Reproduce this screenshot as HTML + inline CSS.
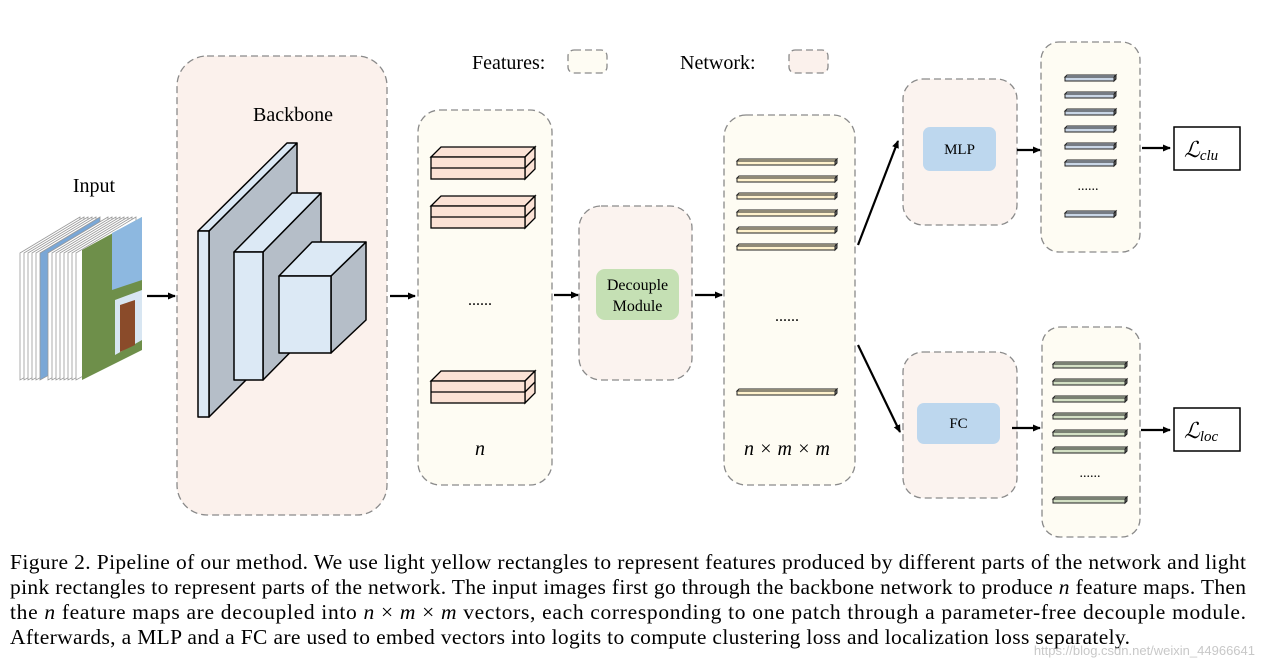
<!DOCTYPE html>
<html><head><meta charset="utf-8"><style>html,body{margin:0;padding:0;background:#fff}svg{display:block}</style></head><body>
<svg width="1261" height="669" viewBox="0 0 1261 669" xmlns="http://www.w3.org/2000/svg" font-family="Liberation Serif, serif">
<defs>
<marker id="ah" markerWidth="8" markerHeight="8" refX="7" refY="4" orient="auto" markerUnits="userSpaceOnUse"><path d="M0,0.5 L8,4 L0,7.5 z" fill="#000"/></marker>
</defs>
<g stroke="#8a8a8a" stroke-width="1.3" stroke-dasharray="7,4">
<rect x="177" y="56" width="210" height="459" rx="30" fill="#fbf1ec"/>
<rect x="418" y="110" width="134" height="375" rx="22" fill="#fefcf3"/>
<rect x="579" y="206" width="113" height="174" rx="22" fill="#fbf3ef"/>
<rect x="724" y="115" width="131" height="370" rx="22" fill="#fefcf3"/>
<rect x="903" y="79" width="114" height="146" rx="20" fill="#fbf3ef"/>
<rect x="1041" y="42" width="99" height="210" rx="18" fill="#fefcf3"/>
<rect x="903" y="352" width="114" height="146" rx="20" fill="#fbf3ef"/>
<rect x="1042" y="327" width="98" height="210" rx="18" fill="#fefcf3"/>
<rect x="568" y="50" width="39" height="23" rx="6" fill="#fefcf3"/>
<rect x="789" y="50" width="39" height="23" rx="6" fill="#fbf1ec"/>
</g>
<g font-size="20" fill="#000">
<text x="472" y="69">Features:</text>
<text x="680" y="69">Network:</text>
<text x="94" y="192" text-anchor="middle">Input</text>
<text x="293" y="121" text-anchor="middle">Backbone</text>
<text x="480" y="455" font-style="italic" text-anchor="middle">n</text>
<text x="787" y="455" font-style="italic" text-anchor="middle">n × m × m</text>
<text x="480" y="305" text-anchor="middle" font-size="16">......</text>
<text x="787" y="321" text-anchor="middle" font-size="16">......</text>
<text x="1088" y="190" text-anchor="middle" font-size="14">......</text>
<text x="1090" y="477" text-anchor="middle" font-size="14">......</text>
</g>
<g stroke="#9a9a9a" stroke-width="0.8" fill="#fff">
<path d="M20,253 L80,217 L80,347 L20,380 z"/><path d="M24,253 L84,217 L84,347 L24,380 z"/>
<path d="M28,253 L88,217 L88,347 L28,380 z"/><path d="M32,253 L92,217 L92,347 L32,380 z"/>
<path d="M36,253 L96,217 L96,347 L36,380 z"/>
<path d="M40,253 L100,217 L100,347 L40,380 z" fill="#7aa7d6"/>
<path d="M48,253 L108,217 L108,347 L48,380 z"/><path d="M52,253 L112,217 L112,347 L52,380 z"/>
<path d="M56,253 L116,217 L116,347 L56,380 z"/><path d="M60,253 L120,217 L120,347 L60,380 z"/>
<path d="M64,253 L124,217 L124,347 L64,380 z"/><path d="M68,253 L128,217 L128,347 L68,380 z"/>
<path d="M72,253 L132,217 L132,347 L72,380 z"/><path d="M76,253 L136,217 L136,347 L76,380 z"/>
</g>
<path d="M82,250 L142,217 L142,350 L82,380 z" fill="#6e8f4a"/>
<path d="M112,233 L142,217 L142,280 L112,290 z" fill="#8db8e0"/>
<path d="M115,300 L142,290 L142,340 L115,355 z" fill="#d8e6f2"/>
<path d="M120,305 L135,300 L135,345 L120,352 z" fill="#8a4b2a"/>
<g stroke="#000" stroke-width="1.5" stroke-linejoin="round">
<path d="M209,231 L297,143 L297,329 L209,417 z" fill="#b5bec8"/>
<path d="M198,231 L287,143 L297,143 L209,231 z" fill="#dce9f5"/>
<rect x="198" y="231" width="11" height="186" fill="#dce9f5"/>
<path d="M263,252 L321,193 L321,321 L263,380 z" fill="#b5bec8"/>
<path d="M234,252 L292,193 L321,193 L263,252 z" fill="#dce9f5"/>
<rect x="234" y="252" width="29" height="128" fill="#dce9f5"/>
<path d="M331,276 L366,242 L366,320 L331,353 z" fill="#b5bec8"/>
<path d="M279,276 L312,242 L366,242 L331,276 z" fill="#dce9f5"/>
<rect x="279" y="276" width="52" height="77" fill="#dce9f5"/>
</g>
<g stroke="#000" stroke-width="1.3" fill="#fbe2d5">
<g id="fb"><path d="M431,157 L441,147 L535,147 L525,157 z"/><path d="M525,157 L535,147 L535,169 L525,179 z"/><rect x="431" y="157" width="94" height="22"/><line x1="431" y1="168" x2="525" y2="168"/><line x1="525" y1="168" x2="535" y2="158"/></g>
<use href="#fb" y="49"/><use href="#fb" y="224"/>
</g>
<g stroke="#222" stroke-width="1" fill="#fff2cc">
<g id="vb"><path d="M737,161 L739,159 L837,159 L835,161 z"/><rect x="737" y="161" width="98" height="4"/><path d="M835,161 L837,159 L837,163 L835,165 z" fill="#777"/></g>
<use href="#vb" y="17"/><use href="#vb" y="34"/><use href="#vb" y="51"/><use href="#vb" y="68"/><use href="#vb" y="85"/><use href="#vb" y="230"/>
</g>
<g stroke="#222" stroke-width="1" fill="#c9d6e6">
<g id="bb"><path d="M1065,77 L1067,75 L1116,75 L1114,77 z"/><rect x="1065" y="77" width="49" height="4"/><path d="M1114,77 L1116,75 L1116,79 L1114,81 z" fill="#666"/></g>
<use href="#bb" y="17"/><use href="#bb" y="34"/><use href="#bb" y="51"/><use href="#bb" y="68"/><use href="#bb" y="85"/><use href="#bb" y="136"/>
</g>
<g stroke="#222" stroke-width="1" fill="#d3e0c4">
<g id="gb"><path d="M1053,364 L1055,362 L1127,362 L1125,364 z"/><rect x="1053" y="364" width="72" height="4"/><path d="M1125,364 L1127,362 L1127,366 L1125,368 z" fill="#666"/></g>
<use href="#gb" y="17"/><use href="#gb" y="34"/><use href="#gb" y="51"/><use href="#gb" y="68"/><use href="#gb" y="85"/><use href="#gb" y="135"/>
</g>
<rect x="596" y="269" width="83" height="51" rx="9" fill="#c5e0b4"/>
<text x="637.5" y="290" font-size="16" text-anchor="middle">Decouple</text>
<text x="637.5" y="311" font-size="16" text-anchor="middle">Module</text>
<rect x="923" y="127" width="73" height="44" rx="7" fill="#bdd7ee"/>
<text x="959.5" y="154" font-size="15" text-anchor="middle">MLP</text>
<rect x="917" y="403" width="83" height="41" rx="7" fill="#bdd7ee"/>
<text x="958.5" y="428" font-size="15" text-anchor="middle">FC</text>
<rect x="1174" y="127" width="66" height="43" fill="#fff" stroke="#000" stroke-width="1.5"/>
<text x="1184" y="157" font-size="22" font-style="italic">ℒ<tspan font-size="15" dy="3">clu</tspan></text>
<rect x="1174" y="408" width="66" height="43" fill="#fff" stroke="#000" stroke-width="1.5"/>
<text x="1184" y="438" font-size="22" font-style="italic">ℒ<tspan font-size="15" dy="3">loc</tspan></text>
<g stroke="#000" stroke-width="2.2" marker-end="url(#ah)">
<line x1="147" y1="296" x2="175" y2="296"/>
<line x1="390" y1="296" x2="415" y2="296"/>
<line x1="554" y1="295" x2="578" y2="295"/>
<line x1="695" y1="295" x2="722" y2="295"/>
<line x1="858" y1="245" x2="898" y2="141"/>
<line x1="858" y1="345" x2="900" y2="432"/>
<line x1="1017" y1="150" x2="1040" y2="150"/>
<line x1="1012" y1="428" x2="1040" y2="428"/>
<line x1="1142" y1="148" x2="1170" y2="148"/>
<line x1="1141" y1="430" x2="1170" y2="430"/>
</g>
<g font-size="21.5" fill="#000">
<text x="10" y="569" textLength="1236" lengthAdjust="spacing">Figure 2. Pipeline of our method. We use light yellow rectangles to represent features produced by different parts of the network and light</text>
<text x="10" y="594" textLength="1236" lengthAdjust="spacing">pink rectangles to represent parts of the network. The input images first go through the backbone network to produce <tspan font-style="italic">n</tspan> feature maps. Then</text>
<text x="10" y="619" textLength="1236" lengthAdjust="spacing">the <tspan font-style="italic">n</tspan> feature maps are decoupled into <tspan font-style="italic">n</tspan> × <tspan font-style="italic">m</tspan> × <tspan font-style="italic">m</tspan> vectors, each corresponding to one patch through a parameter-free decouple module.</text>
<text x="10" y="644" textLength="1120" lengthAdjust="spacing">Afterwards, a MLP and a FC are used to embed vectors into logits to compute clustering loss and localization loss separately.</text>
</g>
<text x="1255" y="655" font-size="13" fill="#c8c8c8" text-anchor="end" font-family="Liberation Sans, sans-serif">https://blog.csdn.net/weixin_44966641</text>
</svg>
</body></html>
